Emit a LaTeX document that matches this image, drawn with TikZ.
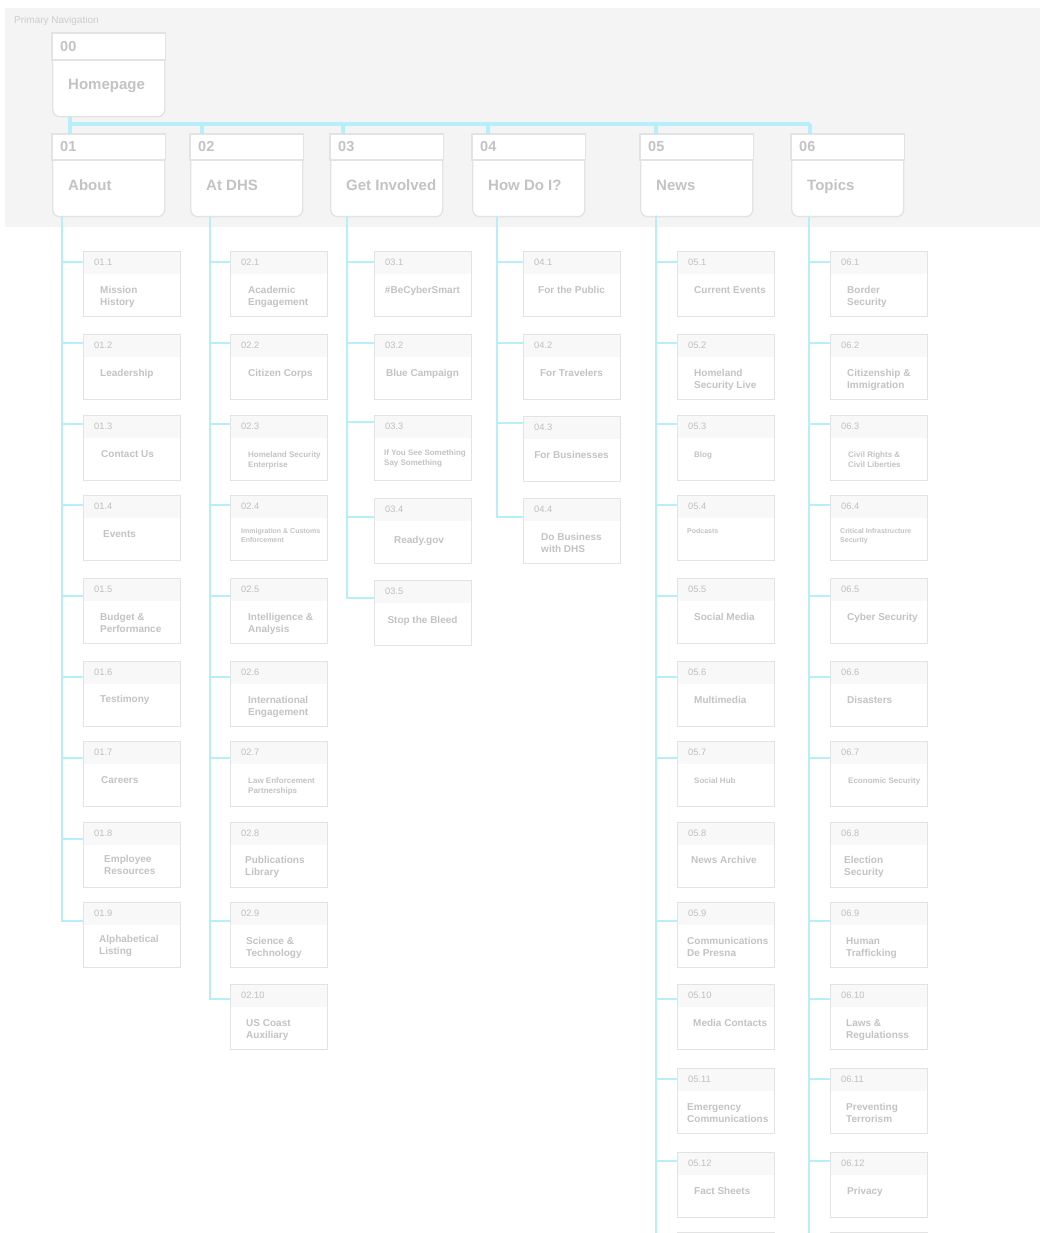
\documentclass[tikz,border=0pt]{standalone}
\usepackage{fontspec}
\setmainfont{Liberation Sans}
\usepackage{tikz}

\definecolor{navbg}{HTML}{F4F4F4}
\definecolor{frame}{HTML}{E3E3E3}
\definecolor{headfill}{HTML}{F8F8F8}
\definecolor{labelgray}{HTML}{C3C3C3}
\definecolor{numgray}{HTML}{BFBFBF}
\definecolor{capgray}{HTML}{CDCDCD}
\definecolor{link}{RGB}{182,239,250}

\tikzset{
    navbox/.style={anchor=north west, minimum width=112pt, minimum height=82pt, inner sep=0pt,
        draw=frame, fill=white, line width=1.4pt, rounded corners=7pt},
    navhead/.style={draw=frame, fill=white, line width=1.4pt},
    navnum/.style={anchor=base west, inner sep=0pt, text=labelgray, font=\bfseries\fontsize{14.5}{16}\selectfont},
    navtitle/.style={anchor=base west, inner sep=0pt, text=labelgray, font=\bfseries\fontsize{15}{18}\selectfont},
    subbox/.style={anchor=north west, minimum width=97pt, minimum height=65pt, inner sep=0pt,
        draw=frame, fill=white, line width=1.1pt,
        path picture={\fill[headfill] (path picture bounding box.north west) rectangle ([yshift=-22pt]path picture bounding box.north east);}},
    subnum/.style={anchor=base west, inner sep=0pt, text=numgray, font=\fontsize{9.3}{11}\selectfont},
    txt/.style={anchor=north west, xshift=17pt, yshift=-35.5pt, inner sep=0pt, align=left,
        text=labelgray, font=\bfseries\fontsize{10}{12}\selectfont},
    sml/.style={txt, yshift=-0.6pt, font=\bfseries\fontsize{8}{10}\selectfont},
    tny/.style={txt, yshift=2pt, font=\bfseries\fontsize{7}{9}\selectfont},
    mid/.style={txt, anchor=north, xshift=31.5pt},
    trunk/.style={draw=link, line width=3.4pt},
    branch/.style={draw=link, line width=1.8pt}
}

% box, number, title and the point where its branch comes in
\newcommand\subpage[7]{%
    \node[subbox] (n#1) at (#2,#3) {};
    \node[subnum] at ([shift={(11pt,-14.3pt)}]n#1.north west) {#5};
    \node[#7] at (n#1.north west) {#6};
    \coordinate (in#1) at (#2,#4);
}

\begin{document}
\begin{tikzpicture}[x=1pt, y=-1pt]
    \useasboundingbox (0,0) rectangle (1064,1233);
    \fill[white] (0,0) rectangle (1064,1233);
    \fill[navbg] (5,8) rectangle (1040,227);
    \node[anchor=base west, inner sep=0pt, text=capgray, font=\fontsize{10}{12}\selectfont] (navlabel) at (14,23.6) {Primary Navigation};

    % primary navigation
    \node[navbox, minimum height=83pt] (home) at (52,33) {};
    \draw[navhead] (home.north west) rectangle ([yshift=-27pt]home.north east);
    \node[navnum] at ([shift={(8pt,-18.2pt)}]home.north west) {00};
    \node[navtitle] at ([shift={(16pt,-56.4pt)}]home.north west) {Homepage};

    \foreach \n/\x/\num/\t in {about/52/01/About, atdhs/190/02/At DHS, involved/330/03/Get Involved,
        howdoi/472/04/How Do I?, news/640/05/News, topics/791/06/Topics} {
        \node[navbox] (\n) at (\x,134) {};
        \draw[navhead] (\n.north west) rectangle ([yshift=-26pt]\n.north east);
        \node[navnum] at ([shift={(8pt,-17.2pt)}]\n.north west) {\num};
        \node[navtitle] at ([shift={(16pt,-56.4pt)}]\n.north west) {\t};
    }

    \coordinate (d1) at (70,124);
    \coordinate (d2) at (202,124);
    \coordinate (d3) at (343,124);
    \coordinate (d4) at (488,124);
    \coordinate (d5) at (656,124);
    \coordinate (d6) at (810,124);
    \draw[trunk] (home.south -| d1) -- (d1) -- (d6);
    \foreach \d/\n in {d1/about, d2/atdhs, d3/involved, d4/howdoi, d5/news, d6/topics}
        \draw[trunk] (\d) -- (\d |- \n.north);

    % About
    \subpage{1-1}{83}{251}{262}{01.1}{Mission\\History}{txt}
    \subpage{1-2}{83}{334}{343}{01.2}{Leadership}{txt}
    \subpage{1-3}{83}{415}{424}{01.3}{Contact Us}{txt,xshift=1pt}
    \subpage{1-4}{83}{495}{505}{01.4}{Events}{txt,xshift=3pt}
    \subpage{1-5}{83}{578}{596}{01.5}{Budget \&\\Performance}{txt}
    \subpage{1-6}{83}{661}{677}{01.6}{Testimony}{txt,yshift=1pt}
    \subpage{1-7}{83}{741}{758}{01.7}{Careers}{txt,xshift=1pt}
    \subpage{1-8}{83}{822}{839}{01.8}{Employee\\Resources}{txt,xshift=4pt,yshift=2pt}
    \subpage{1-9}{83}{902}{921}{01.9}{Alphabetical\\Listing}{txt,xshift=-1pt,yshift=2pt}

    % At DHS
    \subpage{2-1}{230}{251}{262}{02.1}{Academic\\Engagement}{txt,xshift=1pt}
    \subpage{2-2}{230}{334}{343}{02.2}{Citizen Corps}{txt,xshift=1pt}
    \subpage{2-3}{230}{415}{424}{02.3}{Homeland Security\\Enterprise}{sml,xshift=1pt}
    \subpage{2-4}{230}{495}{505}{02.4}{Immigration \& Customs\\Enforcement}{tny,xshift=-6pt}
    \subpage{2-5}{230}{578}{596}{02.5}{Intelligence \&\\Analysis}{txt,xshift=1pt}
    \subpage{2-6}{230}{661}{677}{02.6}{International\\Engagement}{txt,xshift=1pt}
    \subpage{2-7}{230}{741}{758}{02.7}{Law Enforcement\\Partnerships}{sml,xshift=1pt}
    \subpage{2-8}{230}{822}{839}{02.8}{Publications\\Library}{txt,xshift=-2pt,yshift=1pt}
    \subpage{2-9}{230}{902}{921}{02.9}{Science \&\\Technology}{txt,xshift=-1pt}
    \subpage{2-10}{230}{984}{999}{02.10}{US Coast\\Auxiliary}{txt,xshift=-1pt}

    % Get Involved
    \subpage{3-1}{374}{251}{262}{03.1}{\#BeCyberSmart}{mid}
    \subpage{3-2}{374}{334}{343}{03.2}{Blue Campaign}{mid}
    \subpage{3-3}{374}{415}{422}{03.3}{If You See Something\\Say Something}{sml,xshift=-7pt,yshift=2pt}
    \subpage{3-4}{374}{498}{517}{03.4}{Ready.gov}{mid,xshift=-3.5pt,yshift=-3pt}
    \subpage{3-5}{374}{580}{598}{03.5}{Stop the Bleed}{mid,yshift=-1pt}

    % How Do I?
    \subpage{4-1}{523}{251}{262}{04.1}{For the Public}{mid}
    \subpage{4-2}{523}{334}{343}{04.2}{For Travelers}{mid}
    \subpage{4-3}{523}{416}{423}{04.3}{For Businesses}{mid}
    \subpage{4-4}{523}{498}{517}{04.4}{Do Business\\with DHS}{mid}

    % News
    \subpage{5-1}{677}{251}{262}{05.1}{Current Events}{txt}
    \subpage{5-2}{677}{334}{343}{05.2}{Homeland\\Security Live}{txt}
    \subpage{5-3}{677}{415}{424}{05.3}{Blog}{sml}
    \subpage{5-4}{677}{495}{505}{05.4}{Podcasts}{tny,xshift=-7pt}
    \subpage{5-5}{677}{578}{596}{05.5}{Social Media}{txt}
    \subpage{5-6}{677}{661}{677}{05.6}{Multimedia}{txt}
    \subpage{5-7}{677}{741}{758}{05.7}{Social Hub}{sml}
    \subpage{5-8}{677}{822}{839}{05.8}{News Archive}{txt,xshift=-3pt,yshift=1pt}
    \subpage{5-9}{677}{902}{921}{05.9}{Communications\\De Presna}{txt,xshift=-7pt}
    \subpage{5-10}{677}{984}{999}{05.10}{Media Contacts}{txt,xshift=-1pt}
    \subpage{5-11}{677}{1068}{1079}{05.11}{Emergency\\Communications}{txt,xshift=-7pt}
    \subpage{5-12}{677}{1152}{1161}{05.12}{Fact Sheets}{txt}
    \subpage{5-13}{677}{1232}{1243}{}{}{txt}

    % Topics
    \subpage{6-1}{830}{251}{262}{06.1}{Border\\Security}{txt}
    \subpage{6-2}{830}{334}{343}{06.2}{Citizenship \&\\Immigration}{txt}
    \subpage{6-3}{830}{415}{424}{06.3}{Civil Rights \&\\Civil Liberties}{sml,xshift=1pt}
    \subpage{6-4}{830}{495}{505}{06.4}{Critical Infrastructure\\Security}{tny,xshift=-7pt}
    \subpage{6-5}{830}{578}{596}{06.5}{Cyber Security}{txt}
    \subpage{6-6}{830}{661}{677}{06.6}{Disasters}{txt}
    \subpage{6-7}{830}{741}{758}{06.7}{Economic Security}{sml,xshift=1pt}
    \subpage{6-8}{830}{822}{839}{06.8}{Election\\Security}{txt,xshift=-3pt,yshift=1pt}
    \subpage{6-9}{830}{902}{921}{06.9}{Human\\Trafficking}{txt,xshift=-1pt}
    \subpage{6-10}{830}{984}{999}{06.10}{Laws \&\\Regulationss}{txt,xshift=-1pt}
    \subpage{6-11}{830}{1068}{1079}{06.11}{Preventing\\Terrorism}{txt,xshift=-1pt}
    \subpage{6-12}{830}{1152}{1161}{06.12}{Privacy}{txt}
    \subpage{6-13}{830}{1232}{1243}{}{}{txt}

    % branches
    \coordinate (tr1) at (62,216);
    \coordinate (tr2) at (210,216);
    \coordinate (tr3) at (347,216);
    \coordinate (tr4) at (497,216);
    \coordinate (tr5) at (656,216);
    \coordinate (tr6) at (809,216);
    \foreach \k in {1,2,3,4,5,6,7,8,9}
        \draw[branch] (tr1) |- (in1-\k);
    \foreach \k in {1,2,3,4,5,6,7,9,10}
        \draw[branch] (tr2) |- (in2-\k);
    \foreach \k in {1,2,3,4,5}
        \draw[branch] (tr3) |- (in3-\k);
    \foreach \k in {1,2,3,4}
        \draw[branch] (tr4) |- (in4-\k);
    \foreach \k in {1,2,3,4,5,6,7,9,10,11,12,13} {
        \draw[branch] (tr5) |- (in5-\k);
        \draw[branch] (tr6) |- (in6-\k);
    }
\end{tikzpicture}
\end{document}
